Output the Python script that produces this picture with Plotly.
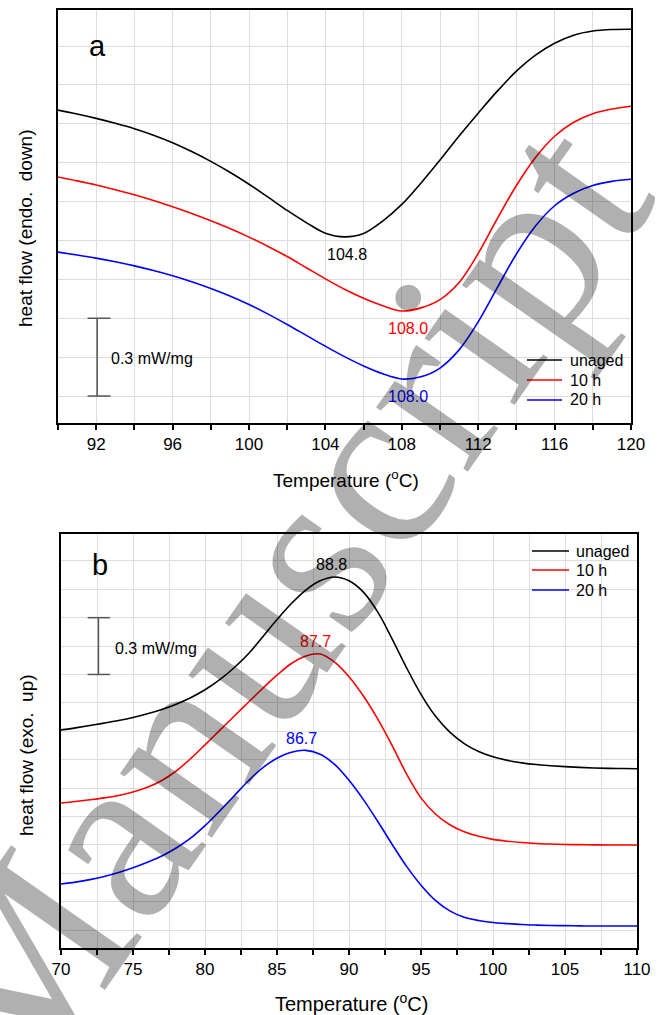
import plotly.graph_objects as go

# ---------------- Panel a (endotherm, endo. down) ----------------
temp_a = list(range(90, 121))  # degC
ya_unaged = [1.253, 1.238, 1.221, 1.202, 1.181, 1.156, 1.127, 1.093, 1.055, 1.013,
             0.967, 0.917, 0.866, 0.819, 0.778, 0.764, 0.777, 0.825, 0.889, 0.971,
             1.060, 1.153, 1.241, 1.326, 1.403, 1.465, 1.511, 1.542, 1.558, 1.564, 1.565]
ya_10h = [0.995, 0.980, 0.964, 0.946, 0.926, 0.904, 0.880, 0.854, 0.826, 0.796,
          0.763, 0.727, 0.688, 0.645, 0.602, 0.562, 0.527, 0.498, 0.478, 0.490,
          0.522, 0.588, 0.700, 0.834, 0.962, 1.070, 1.152, 1.206, 1.239, 1.257, 1.268]
ya_20h = [0.705, 0.694, 0.682, 0.668, 0.652, 0.634, 0.614, 0.591, 0.565, 0.536,
          0.503, 0.466, 0.426, 0.384, 0.342, 0.302, 0.266, 0.236, 0.216, 0.224,
          0.258, 0.328, 0.436, 0.568, 0.698, 0.806, 0.884, 0.932, 0.962, 0.978, 0.986]
peaks_a = [104.8, 108.0, 108.0]
peak_labels_a = ["104.8", "108.0", "108.0"]

# ---------------- Panel b (exotherm, exo. up) ----------------
temp_b = list(range(70, 111))  # degC
yb_unaged = [1.207, 1.218, 1.230, 1.243, 1.257, 1.273, 1.292, 1.315, 1.343, 1.377,
             1.419, 1.471, 1.534, 1.608, 1.698, 1.790, 1.875, 1.946, 1.995, 2.015,
             1.995, 1.935, 1.829, 1.687, 1.535, 1.395, 1.280, 1.195, 1.135, 1.093,
             1.065, 1.046, 1.033, 1.024, 1.018, 1.013, 1.009, 1.006, 1.004, 1.003, 1.002]
yb_10h = [0.821, 0.829, 0.838, 0.848, 0.861, 0.879, 0.904, 0.940, 0.990, 1.055,
          1.128, 1.203, 1.278, 1.352, 1.426, 1.496, 1.558, 1.598, 1.608, 1.565,
          1.488, 1.386, 1.264, 1.124, 0.974, 0.848, 0.763, 0.706, 0.669, 0.645,
          0.629, 0.619, 0.612, 0.607, 0.604, 0.602, 0.601, 0.600, 0.599, 0.599, 0.599]
yb_20h = [0.393, 0.403, 0.416, 0.433, 0.454, 0.479, 0.508, 0.541, 0.583, 0.635,
          0.701, 0.777, 0.857, 0.937, 1.007, 1.057, 1.089, 1.099, 1.079, 1.025,
          0.941, 0.839, 0.723, 0.602, 0.486, 0.387, 0.307, 0.251, 0.217, 0.200,
          0.190, 0.184, 0.179, 0.176, 0.174, 0.173, 0.172, 0.171, 0.171, 0.171, 0.171]
peaks_b = [88.8, 87.7, 86.7]
peak_labels_b = ["88.8", "87.7", "86.7"]

series_names = ["unaged", "10 h", "20 h"]
colors = ["#000000", "#ff0000", "#0000ff"]
scale_label = "0.3 mW/mg"

W, H = 660, 1015
FONT = "Arial, Liberation Sans, sans-serif"


def px(x):
    return x / W


def py(y):
    return 1 - y / H


fig = go.Figure()

for name, y, c in zip(series_names, [ya_unaged, ya_10h, ya_20h], colors):
    fig.add_trace(go.Scatter(x=temp_a, y=y, mode="lines", name=name, showlegend=False,
                             line=dict(color=c, width=1.6, shape="spline", smoothing=1.0),
                             xaxis="x", yaxis="y"))

for name, y, c in zip(series_names, [yb_unaged, yb_10h, yb_20h], colors):
    fig.add_trace(go.Scatter(x=temp_b, y=y, mode="lines", name=name, showlegend=False,
                             line=dict(color=c, width=1.6, shape="spline", smoothing=1.0),
                             xaxis="x2", yaxis="y2"))

grid_col = "#dddddd"
axis_common = dict(showline=True, linecolor="black", linewidth=1.5, mirror=True, zeroline=False,
                   showgrid=True, gridcolor=grid_col, gridwidth=1, automargin=False)

fig.update_layout(
    width=W, height=H, margin=dict(l=0, r=0, t=0, b=0, autoexpand=False),
    plot_bgcolor="white", paper_bgcolor="white",
    font=dict(family=FONT, color="black", size=16),
    showlegend=False,
    xaxis=dict(domain=[px(58), px(631)], anchor="y", range=[90, 120], tick0=92, dtick=4,
               ticks="outside", ticklen=5, tickwidth=1.5, tickcolor="black", tickfont=dict(size=17),
               minor=dict(dtick=2, tick0=90, ticks="outside", ticklen=5, tickwidth=1.5, tickcolor="black",
                          showgrid=True, gridcolor=grid_col, gridwidth=1),
               **axis_common),
    yaxis=dict(domain=[py(423), py(10)], anchor="x", range=[0.046, 1.639], tick0=0, dtick=0.15,
               showticklabels=False, ticks="", **axis_common),
    xaxis2=dict(domain=[px(61), px(637)], anchor="y2", range=[70, 110], tick0=70, dtick=5,
                ticks="outside", ticklen=5, tickwidth=1.5, tickcolor="black", tickfont=dict(size=17),
                minor=dict(dtick=2.5, tick0=70, ticks="outside", ticklen=5, tickwidth=1.5, tickcolor="black",
                           showgrid=True, gridcolor=grid_col, gridwidth=1),
                **axis_common),
    yaxis2=dict(domain=[py(948), py(534)], anchor="x2", range=[0.055, 2.242], tick0=0, dtick=0.15,
                showticklabels=False, ticks="", **axis_common),
)


def txt(text, x, y, size, xanchor="center", yanchor="middle", color="black", angle=0, family=None):
    f = dict(size=size, color=color)
    if family:
        f["family"] = family
    return dict(text=text, x=px(x), y=py(y), xref="paper", yref="paper", showarrow=False,
                xanchor=xanchor, yanchor=yanchor, textangle=angle, font=f)


ann = []
# panel letters
ann.append(txt("a", 97, 46, 29))
ann.append(txt("b", 100, 565, 29))
# axis titles
ann.append(txt("Temperature (<sup>o</sup>C)", 346, 479, 19))
ann.append(txt("Temperature (<sup>o</sup>C)", 351, 1002, 20))
ann.append(txt("heat flow (endo.\u00a0 down)", 25, 228, 19, angle=-90))
ann.append(txt("heat flow (exo.\u00a0 up)", 26, 755, 19, angle=-90))
# scale bar labels
ann.append(txt(scale_label, 109, 359, 16, xanchor="left"))
ann.append(txt(scale_label, 113, 648, 16, xanchor="left"))

# legends (drawn by hand so spacing matches)
shapes = []
for (lx0, lx1, tx, rows) in [(527, 562, 568, [360, 380, 400]), (532, 569, 574, [551, 570, 590])]:
    for name, c, ry in zip(series_names, colors, rows):
        shapes.append(dict(type="line", xref="paper", yref="paper", x0=px(lx0), x1=px(lx1),
                           y0=py(ry), y1=py(ry), line=dict(color=c, width=1.6)))
        ann.append(txt(name, tx, ry, 16, xanchor="left"))

# peak labels panel a (below minima)
mins_a = [min(ya_unaged), min(ya_10h), min(ya_20h)]
for pk, lab, m, c in zip(peaks_a, peak_labels_a, mins_a, colors):
    ann.append(dict(text=lab, x=pk + 0.35, y=m - 0.067, xref="x", yref="y", showarrow=False,
                    xanchor="center", yanchor="middle", font=dict(size=16, color=c)))
# peak labels panel b (above maxima)
maxs_b = [max(yb_unaged), max(yb_10h), max(yb_20h)]
for pk, lab, m, c in zip(peaks_b, peak_labels_b, maxs_b, colors):
    ann.append(dict(text=lab, x=pk, y=m + 0.065, xref="x2", yref="y2", showarrow=False,
                    xanchor="center", yanchor="middle", font=dict(size=16, color=c)))

# watermark
ann.append(txt("Manuscript", 273, 607, 244, angle=-55, color="rgba(0,0,0,0.31)",
               family="Liberation Serif, DejaVu Serif, serif"))
fig.update_layout(annotations=ann)

# scale bars
bar_col = "#555555"
for xr, yr, xc, x0, x1, y0, y1 in [("x", "y", 92.05, 91.55, 92.75, 0.15, 0.45),
                                   ("x2", "y2", 72.6, 71.85, 73.4, 1.5, 1.8)]:
    shapes.append(dict(type="line", xref=xr, yref=yr, x0=xc, x1=xc, y0=y0, y1=y1, line=dict(color=bar_col, width=1.5)))
    shapes.append(dict(type="line", xref=xr, yref=yr, x0=x0, x1=x1, y0=y0, y1=y0, line=dict(color=bar_col, width=1.5)))
    shapes.append(dict(type="line", xref=xr, yref=yr, x0=x0, x1=x1, y0=y1, y1=y1, line=dict(color=bar_col, width=1.5)))
fig.update_layout(shapes=shapes)

fig.write_html("out.html")
